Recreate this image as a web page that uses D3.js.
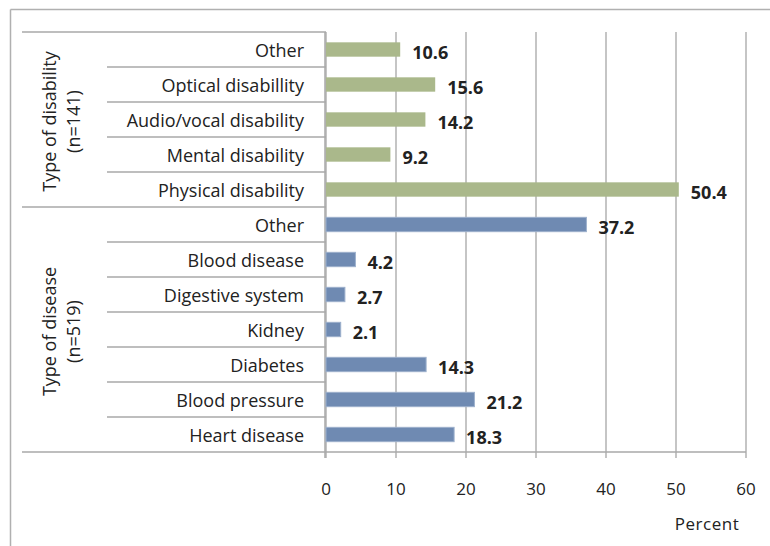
<!DOCTYPE html>
<html>
<head>
<meta charset="utf-8">
<script src="https://cdn.jsdelivr.net/npm/d3@7"></script>
<style>
  body { margin: 0; background: #fff; }
  svg { display: block; font-family: "Open Sans", sans-serif; }
</style>
</head>
<body>
<div id="chart"></div>
<script>
// Data, top to bottom as drawn
var disabilityLabels = ["Other", "Optical disabillity", "Audio/vocal disability", "Mental disability", "Physical disability"];
var disabilityValues = [10.6, 15.6, 14.2, 9.2, 50.4];
var diseaseLabels = ["Other", "Blood disease", "Digestive system", "Kidney", "Diabetes", "Blood pressure", "Heart disease"];
var diseaseValues = [37.2, 4.2, 2.7, 2.1, 14.3, 21.2, 18.3];
var groupTitles = [["Type of disability", "(n=141)"], ["Type of disease", "(n=519)"]];
var xTicks = [0, 10, 20, 30, 40, 50, 60];
var axisTitle = "Percent";

var width = 770, height = 546;
var plotLeft = 326, plotRight = 746, plotTop = 32, plotBottom = 452;
var tableLeft = 22, rowLineLeft = 107;
var gridColor = "#b2b2b2", lineColor = "#a8a8a8";
var colours = ["#aab88b", "#6f8ab2"];

// Build rows
var rows = [];
disabilityLabels.forEach(function(l, i) { rows.push({ key: "a" + i, label: l, value: disabilityValues[i], group: 0 }); });
diseaseLabels.forEach(function(l, i) { rows.push({ key: "b" + i, label: l, value: diseaseValues[i], group: 1 }); });

var svg = d3.select("#chart").append("svg")
  .attr("width", width).attr("height", height);

// Outer frame (top and left edges visible)
svg.append("line").attr("x1", 10.5).attr("x2", width).attr("y1", 9.5).attr("y2", 9.5)
  .attr("stroke", "#b0b0b0").attr("stroke-width", 1.5);
svg.append("line").attr("x1", 10.5).attr("x2", 10.5).attr("y1", 9.5).attr("y2", height)
  .attr("stroke", "#b0b0b0").attr("stroke-width", 1.5);

var x = d3.scaleLinear().domain([0, 60]).range([plotLeft, plotRight]);
var y = d3.scaleBand().domain(rows.map(function(d) { return d.key; }))
  .range([plotTop, plotBottom]).paddingInner(0.59).paddingOuter(0.295);
var step = y.step();

// Gridlines + ticks
svg.append("g").selectAll("line").data(xTicks).join("line")
  .attr("x1", function(d) { return x(d); }).attr("x2", function(d) { return x(d); })
  .attr("y1", plotTop).attr("y2", plotBottom + 6)
  .attr("stroke", gridColor).attr("stroke-width", 1.5);

// Bottom axis line
svg.append("line").attr("x1", tableLeft).attr("x2", plotRight).attr("y1", plotBottom).attr("y2", plotBottom)
  .attr("stroke", lineColor).attr("stroke-width", 1.5);

// Left table lines
svg.append("line").attr("x1", tableLeft).attr("x2", plotLeft).attr("y1", plotTop).attr("y2", plotTop)
  .attr("stroke", lineColor).attr("stroke-width", 1.5);
svg.append("line").attr("x1", plotLeft - 1).attr("x2", plotLeft - 1).attr("y1", plotTop).attr("y2", plotBottom + 6)
  .attr("stroke", lineColor).attr("stroke-width", 1.5);
rows.forEach(function(d, i) {
  if (i === 0) return;
  var yy = y(d.key) - (step - y.bandwidth()) / 2;
  var groupStart = d.group !== rows[i - 1].group;
  svg.append("line")
    .attr("x1", groupStart ? tableLeft : rowLineLeft).attr("x2", plotLeft)
    .attr("y1", yy).attr("y2", yy)
    .attr("stroke", lineColor).attr("stroke-width", 1.5);
});

// Bars
svg.append("g").selectAll("rect").data(rows).join("rect")
  .attr("x", x(0))
  .attr("y", function(d) { return y(d.key); })
  .attr("width", function(d) { return x(d.value) - x(0); })
  .attr("height", y.bandwidth())
  .attr("fill", function(d) { return colours[d.group]; })
  .attr("stroke", function(d) { return d.group ? "#9cb0cc" : "none"; })
  .attr("stroke-width", 1);

// Value labels
svg.append("g").selectAll("text").data(rows).join("text")
  .attr("x", function(d) { return x(d.value) + 12; })
  .attr("y", function(d) { return y(d.key) + y.bandwidth() / 2 + 9.5; })
  .attr("font-size", 18).attr("font-weight", "bold").attr("fill", "#222")
  .text(function(d) { return d.value.toFixed(1); });

// Category labels
svg.append("g").selectAll("text").data(rows).join("text")
  .attr("x", 304)
  .attr("y", function(d) { return y(d.key) + y.bandwidth() / 2 + 7.5; })
  .attr("text-anchor", "end").attr("font-size", 18).attr("fill", "#222")
  .text(function(d) { return d.label; });

// Group titles (rotated)
[0, 1].forEach(function(g) {
  var gr = rows.filter(function(d) { return d.group === g; });
  var top = y(gr[0].key) - (step - y.bandwidth()) / 2;
  var bottom = top + step * gr.length;
  var cy = (top + bottom) / 2 + 2;
  var t = svg.append("text")
    .attr("transform", "translate(0," + cy + ") rotate(-90)")
    .attr("text-anchor", "middle").attr("font-size", 18).attr("fill", "#222");
  t.append("tspan").attr("x", 0).attr("y", 56).text(groupTitles[g][0]);
  t.append("tspan").attr("x", 0).attr("y", 80).text(groupTitles[g][1]);
});

// X tick labels
svg.append("g").selectAll("text").data(xTicks).join("text")
  .attr("x", function(d) { return x(d); }).attr("y", 495)
  .attr("text-anchor", "middle").attr("font-size", 17).attr("fill", "#222")
  .text(function(d) { return d; });

svg.append("text").attr("x", 707).attr("y", 530)
  .attr("text-anchor", "middle").attr("font-size", 17).attr("fill", "#222")
  .attr("letter-spacing", 0.5)
  .text(axisTitle);
</script>
</body>
</html>
